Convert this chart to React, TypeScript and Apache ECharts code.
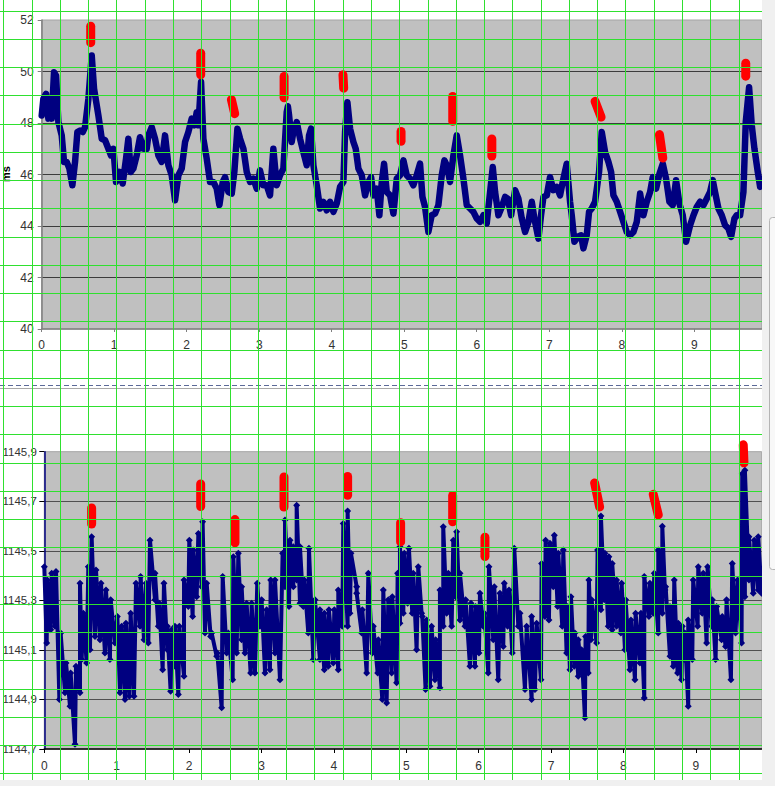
import React, { useEffect, useRef } from "react";
import * as echarts from "echarts";

// ---------- data ----------
const xTickValues = [0, 1, 2, 3, 4, 5, 6, 7, 8, 9];

// upper chart: delay in ms (x, value)
const topLine: [number, number][] = [
  [0.000,48.29],[0.023,48.94],[0.060,49.13],[0.092,48.17],[0.115,48.94],[0.138,48.17],[0.170,49.97],[0.198,49.84],[0.230,48.04],[0.276,47.52],
  [0.308,46.49],[0.345,46.49],[0.382,46.23],[0.423,45.58],[0.460,46.49],[0.492,47.65],[0.529,47.71],[0.566,47.65],[0.598,47.84],[0.644,48.94],
  [0.690,50.62],[0.722,49.33],[0.782,48.29],[0.828,47.39],[0.874,47.33],[0.920,47.00],[0.956,46.74],[0.989,47.00],[1.025,45.71],[1.071,46.10],
  [1.117,45.65],[1.163,46.61],[1.195,47.39],[1.228,46.10],[1.264,46.23],[1.310,46.74],[1.356,47.45],[1.402,47.00],[1.448,47.00],[1.471,47.52],
  [1.517,47.84],[1.563,47.39],[1.609,46.74],[1.655,46.49],[1.701,47.52],[1.747,46.36],[1.793,45.97],[1.839,45.00],[1.885,45.97],[1.931,46.23],
  [1.977,47.26],[2.023,47.65],[2.069,48.17],[2.106,47.91],[2.138,48.42],[2.161,47.91],[2.198,49.59],[2.230,47.39],[2.276,46.61],[2.322,45.71],
  [2.368,45.71],[2.414,45.45],[2.451,44.81],[2.497,45.71],[2.529,45.90],[2.575,45.32],[2.621,45.26],[2.657,46.10],[2.699,47.78],[2.736,47.39],
  [2.782,47.00],[2.828,46.10],[2.874,45.71],[2.920,45.84],[2.966,45.45],[3.011,46.16],[3.057,45.58],[3.103,45.58],[3.149,45.19],[3.195,47.00],
  [3.241,45.58],[3.287,45.97],[3.333,46.23],[3.379,48.42],[3.395,48.65],[3.412,48.29],[3.448,47.26],[3.471,47.65],[3.517,48.04],[3.563,47.39],
  [3.609,46.87],[3.655,46.36],[3.687,47.52],[3.715,47.78],[3.747,46.36],[3.793,45.58],[3.839,44.68],[3.885,44.94],[3.931,44.61],[3.977,44.94],
  [4.023,44.55],[4.069,44.87],[4.115,45.52],[4.161,45.71],[4.184,47.65],[4.216,48.81],[4.253,47.78],[4.299,47.26],[4.331,47.00],[4.368,46.23],
  [4.414,45.97],[4.460,45.19],[4.506,45.71],[4.543,45.90],[4.575,45.19],[4.621,45.45],[4.657,44.42],[4.690,45.71],[4.722,46.42],[4.759,45.32],
  [4.805,45.19],[4.851,44.48],[4.897,45.84],[4.943,45.97],[4.989,46.55],[5.034,45.97],[5.080,45.84],[5.126,45.58],[5.172,45.97],[5.218,46.42],
  [5.251,45.13],[5.287,44.74],[5.333,43.77],[5.379,44.42],[5.425,44.48],[5.471,44.81],[5.517,45.97],[5.554,46.55],[5.586,46.36],[5.632,45.71],
  [5.678,46.74],[5.724,47.52],[5.770,46.74],[5.816,45.84],[5.862,44.81],[5.908,44.68],[5.954,44.55],[6.000,44.29],[6.046,44.16],[6.092,44.42],
  [6.138,44.10],[6.184,45.32],[6.221,46.29],[6.253,45.32],[6.299,44.42],[6.345,44.74],[6.391,45.13],[6.428,45.06],[6.474,44.42],[6.529,45.39],
  [6.575,45.06],[6.621,44.29],[6.667,43.77],[6.713,44.16],[6.759,44.94],[6.795,44.29],[6.851,43.51],[6.887,44.42],[6.920,45.13],[6.966,45.19],
  [7.011,45.90],[7.057,45.39],[7.103,45.52],[7.149,45.19],[7.195,45.84],[7.241,46.42],[7.287,44.94],[7.310,44.42],[7.347,43.39],[7.393,43.58],
  [7.439,43.64],[7.471,43.13],[7.517,43.64],[7.549,44.55],[7.586,44.68],[7.632,44.94],[7.687,46.10],[7.724,47.65],[7.770,46.87],[7.816,46.49],
  [7.853,46.10],[7.885,45.19],[7.931,44.94],[7.977,44.55],[8.023,44.16],[8.069,43.77],[8.115,43.64],[8.161,43.77],[8.207,44.16],[8.253,45.26],
  [8.299,44.42],[8.345,44.94],[8.391,45.32],[8.428,45.90],[8.474,45.45],[8.520,46.03],[8.566,46.42],[8.611,45.84],[8.657,44.94],[8.703,44.81],
  [8.749,45.78],[8.795,44.87],[8.841,44.42],[8.887,43.39],[8.943,44.03],[8.989,44.42],[9.034,44.74],[9.080,44.94],[9.126,44.81],[9.172,45.06],
  [9.218,45.32],[9.255,45.78],[9.287,45.32],[9.333,44.68],[9.379,44.42],[9.425,44.03],[9.471,43.90],[9.508,43.58],[9.554,44.29],[9.586,44.42],
  [9.632,44.42],[9.678,45.32],[9.710,48.04],[9.756,49.39],[9.793,47.91],[9.830,47.00],[9.876,46.10],[9.908,45.52],[9.931,45.84]
];

// upper chart red marks: x0, top value, x1, bottom value
const topMarks: [number, number, number, number][] = [
  [0.676,51.76,0.676,51.12],[2.193,50.71,2.193,49.87],[2.616,48.91,2.662,48.36],[3.343,49.81,3.343,48.98],
  [4.155,49.87,4.165,49.35],[4.956,47.67,4.956,47.29],[5.669,49.03,5.669,48.07],[6.208,47.38,6.208,46.72],
  [7.632,48.84,7.715,48.23],[8.520,47.55,8.566,46.64],[9.710,50.32,9.710,49.82]
];

// lower chart streaks of points: x start, x end, high value, low value
const bottomStreaks: [number, number, number, number][] = [
  [0.000,0.033,1145.436,1145.128],[0.042,0.088,1145.382,1145.181],[0.102,0.148,1145.409,1145.195],[0.162,0.208,1145.416,1144.900],
  [0.226,0.286,1145.168,1144.927],[0.300,0.355,1145.047,1144.873],[0.364,0.424,1145.007,1144.719],[0.438,0.493,1145.034,1144.927],
  [0.493,0.516,1145.369,1145.061],[0.539,0.585,1145.248,1145.047],[0.608,0.631,1145.436,1145.101],[0.654,0.700,1145.557,1145.154],
  [0.714,0.769,1145.423,1145.141],[0.783,0.838,1145.369,1145.087],[0.852,0.907,1145.342,1145.061],[0.917,0.976,1145.302,1145.128],
  [1.009,1.046,1145.235,1144.927],[1.069,1.115,1145.195,1144.900],[1.128,1.175,1145.208,1144.913],[1.193,1.239,1145.248,1144.913],
  [1.267,1.322,1145.369,1145.195],[1.331,1.377,1145.396,1145.141],[1.405,1.437,1145.369,1145.128],[1.460,1.529,1145.543,1145.302],
  [1.529,1.575,1145.409,1145.195],[1.589,1.635,1145.288,1145.020],[1.653,1.699,1145.369,1145.101],[1.699,1.745,1145.195,1144.933],
  [1.759,1.805,1145.181,1145.034],[1.805,1.851,1145.195,1144.920],[1.865,1.930,1145.195,1144.994],[1.930,1.989,1145.382,1145.275],
  [2.003,2.049,1145.543,1145.235],[2.058,2.105,1145.503,1145.315],[2.128,2.174,1145.570,1145.355],[2.187,2.220,1145.617,1145.168],
  [2.243,2.298,1145.369,1145.154],[2.312,2.381,1145.168,1145.074],[2.390,2.450,1145.087,1144.866],[2.464,2.519,1145.396,1145.087],
  [2.542,2.602,1145.168,1144.980],[2.611,2.657,1145.476,1145.087],[2.680,2.726,1145.490,1145.141],[2.726,2.772,1145.355,1145.087],
  [2.795,2.850,1145.288,1145.007],[2.864,2.910,1145.288,1145.007],[2.942,2.979,1145.369,1145.195],[3.002,3.049,1145.302,1145.007],
  [3.071,3.117,1145.262,1145.020],[3.127,3.187,1145.382,1145.087],[3.187,3.256,1145.382,1144.980],[3.292,3.325,1145.490,1145.355],
  [3.325,3.380,1145.624,1145.275],[3.394,3.440,1145.543,1145.355],[3.440,3.486,1145.516,1145.382],[3.486,3.532,1145.684,1145.288],
  [3.532,3.578,1145.516,1145.275],[3.592,3.647,1145.382,1145.168],[3.656,3.716,1145.510,1145.061],[3.739,3.808,1145.302,1145.061],
  [3.808,3.868,1145.262,1145.020],[3.868,3.923,1145.248,1145.034],[3.932,3.992,1145.262,1145.047],[4.006,4.061,1145.262,1145.020],
  [4.061,4.116,1145.342,1145.195],[4.130,4.190,1145.610,1145.195],[4.190,4.222,1145.661,1145.248],[4.236,4.315,1145.490,1145.355],
  [4.315,4.384,1145.329,1145.168],[4.393,4.453,1145.262,1145.007],[4.476,4.531,1145.409,1145.087],[4.545,4.605,1145.195,1145.007],
  [4.614,4.669,1145.141,1144.900],[4.683,4.729,1145.342,1144.886],[4.752,4.798,1145.302,1145.007],[4.807,4.867,1145.315,1144.967],
  [4.881,4.913,1145.409,1145.208],[4.913,4.959,1145.516,1145.248],[4.973,5.019,1145.490,1145.288],[5.037,5.083,1145.510,1145.248],
  [5.097,5.143,1145.409,1145.101],[5.166,5.212,1145.436,1145.248],[5.221,5.267,1145.235,1144.940],[5.281,5.327,1145.221,1144.953],
  [5.350,5.396,1145.195,1144.980],[5.406,5.465,1145.141,1144.947],[5.465,5.511,1145.342,1145.195],[5.511,5.558,1145.597,1145.248],
  [5.581,5.627,1145.409,1145.195],[5.650,5.682,1145.543,1145.315],[5.696,5.742,1145.577,1145.221],[5.742,5.811,1145.409,1145.195],
  [5.820,5.880,1145.302,1145.034],[5.894,5.949,1145.288,1145.034],[5.958,6.004,1145.275,1145.087],[6.018,6.064,1145.329,1145.195],
  [6.078,6.133,1145.248,1145.007],[6.142,6.202,1145.436,1145.141],[6.216,6.271,1145.355,1144.980],[6.294,6.340,1145.329,1145.114],
  [6.354,6.400,1145.369,1145.195],[6.419,6.465,1145.342,1145.087],[6.492,6.548,1145.510,1145.195],[6.571,6.640,1145.248,1144.940],
  [6.663,6.732,1145.195,1144.900],[6.732,6.778,1145.235,1144.940],[6.801,6.861,1145.208,1144.980],[6.870,6.916,1145.449,1145.235],
  [6.925,6.971,1145.543,1145.221],[6.985,7.031,1145.530,1145.355],[7.045,7.091,1145.563,1145.275],[7.100,7.155,1145.490,1145.195],
  [7.169,7.215,1145.503,1145.087],[7.229,7.261,1145.275,1145.020],[7.275,7.321,1145.315,1145.034],[7.330,7.376,1145.168,1144.994],
  [7.376,7.422,1145.141,1145.007],[7.422,7.468,1145.101,1144.826],[7.477,7.514,1145.154,1145.007],[7.523,7.551,1145.382,1145.141],
  [7.560,7.629,1145.302,1145.128],[7.643,7.689,1145.503,1145.262],[7.689,7.735,1145.640,1145.302],[7.744,7.790,1145.490,1145.195],
  [7.799,7.845,1145.476,1145.181],[7.845,7.905,1145.449,1145.195],[7.905,7.965,1145.382,1145.168],[7.975,8.021,1145.369,1145.101],
  [8.030,8.090,1145.302,1145.020],[8.104,8.159,1145.221,1144.980],[8.168,8.228,1145.248,1145.047],[8.242,8.288,1145.248,1144.906],
  [8.288,8.352,1145.396,1145.235],[8.366,8.412,1145.369,1145.248],[8.426,8.481,1145.409,1145.168],[8.481,8.537,1145.503,1145.248],
  [8.537,8.573,1145.599,1145.342],[8.583,8.643,1145.355,1145.074],[8.643,8.689,1145.275,1145.034],[8.702,8.748,1145.382,1145.007],
  [8.757,8.803,1145.208,1144.980],[8.813,8.840,1145.195,1145.061],[8.849,8.895,1145.168,1144.873],[8.895,8.951,1145.221,1145.061],
  [8.964,9.025,1145.382,1145.195],[9.034,9.089,1145.436,1145.248],[9.103,9.149,1145.409,1145.128],[9.163,9.218,1145.436,1145.195],
  [9.227,9.273,1145.302,1145.061],[9.287,9.356,1145.275,1145.141],[9.365,9.411,1145.235,1145.114],[9.425,9.485,1145.302,1144.980],
  [9.503,9.549,1145.449,1145.168],[9.577,9.632,1145.382,1145.128],[9.641,9.678,1145.811,1145.315],[9.678,9.734,1145.825,1145.382],
  [9.734,9.793,1145.557,1145.329],[9.807,9.862,1145.543,1145.342],[9.862,9.908,1145.557,1145.329]
];

// lower chart red marks: x0, top value, x1, bottom value
const bottomMarks: [number, number, number, number][] = [
  [0.654,1145.673,0.654,1145.608],[2.160,1145.770,2.160,1145.679],[2.634,1145.626,2.634,1145.532],[3.311,1145.798,3.311,1145.677],
  [4.190,1145.800,4.190,1145.724],[4.922,1145.613,4.922,1145.536],[5.641,1145.723,5.641,1145.617],[6.087,1145.555,6.087,1145.477],
  [7.602,1145.774,7.671,1145.677],[8.412,1145.728,8.481,1145.645],[9.655,1145.928,9.665,1145.855]
];

const NAVY = "#000080";
const RED = "#ff0000";
const FONT = "'Liberation Sans', Arial, sans-serif";

function buildOption() {
  const bottomPoints = bottomStreaks.flatMap(([x0, x1, hi, lo]) => [
    [x0, hi],
    [x1, lo],
  ]);

  const markSeries = (marks: [number, number, number, number][], idx: number) =>
    marks.map((m) => ({
      type: "line",
      xAxisIndex: idx,
      yAxisIndex: idx,
      data: [
        [m[0], m[1]],
        [m[2], m[3]],
      ],
      symbol: "none",
      clip: false,
      silent: true,
      z: 4,
      lineStyle: { color: RED, width: 9, cap: "round" },
    }));

  // decorative spreadsheet grid drawn over the picture
  const green: any[] = [];
  for (let k = 0; k <= 26; k++) {
    const x = Math.round(3.3 + 28.28 * k) + 0.5;
    green.push({
      type: "line",
      z: 100,
      silent: true,
      shape: { x1: x, y1: 0, x2: x, y2: 780 },
      style: { stroke: "#2fe02f", lineWidth: 1 },
    });
  }
  for (let k = 0; k <= 27; k++) {
    const y = Math.round(10.7 + 28.245 * k) + 0.5;
    green.push({
      type: "line",
      z: 100,
      silent: true,
      shape: { x1: 0, y1: y, x2: 762, y2: y },
      style: { stroke: "#2fe02f", lineWidth: 1 },
    });
  }

  const axisLabelBase = { color: "#333", fontSize: 12, fontFamily: FONT };

  return {
    animation: false,
    backgroundColor: "#ffffff",
    textStyle: { fontFamily: FONT },
    grid: [
      {
        left: 41.7,
        top: 20,
        width: 720,
        height: 309,
        show: true,
        outerBoundsMode: "none",
        containLabel: false,
        backgroundColor: "#c0c0c0",
        borderColor: "#a4a4a4",
        borderWidth: 1,
      },
      {
        left: 44.3,
        top: 451.7,
        width: 717.4,
        height: 297.3,
        show: true,
        outerBoundsMode: "none",
        containLabel: false,
        backgroundColor: "#c0c0c0",
        borderColor: "#a4a4a4",
        borderWidth: 1,
      },
    ],
    xAxis: [
      {
        type: "value",
        gridIndex: 0,
        min: 0,
        max: 9.93,
        axisLine: { onZero: false, lineStyle: { color: "#808080", width: 1.5 } },
        axisTick: { customValues: xTickValues, length: 3, lineStyle: { color: "#808080" } },
        axisLabel: { ...axisLabelBase, customValues: xTickValues, margin: 10 },
        splitLine: { show: false },
      },
      {
        type: "value",
        gridIndex: 1,
        min: 0,
        max: 9.91,
        axisLine: { onZero: false, lineStyle: { color: "#000000", width: 1.5 } },
        axisTick: { customValues: xTickValues, length: 4, lineStyle: { color: "#000000" } },
        axisLabel: { ...axisLabelBase, customValues: xTickValues, margin: 11 },
        splitLine: { show: false },
      },
    ],
    yAxis: [
      {
        type: "value",
        gridIndex: 0,
        min: 40,
        max: 52,
        interval: 2,
        axisLine: { show: true, onZero: false, lineStyle: { color: "#808080", width: 1.5 } },
        axisTick: { show: true, length: 4, lineStyle: { color: "#808080" } },
        axisLabel: { ...axisLabelBase, margin: 8 },
        splitLine: {
          show: true,
          showMinLine: false,
          showMaxLine: false,
          lineStyle: { color: "#3c3c3c", width: 1 },
        },
      },
      {
        type: "value",
        gridIndex: 1,
        min: 1144.7,
        max: 1145.9,
        interval: 0.2,
        axisLine: { show: true, onZero: false, lineStyle: { color: NAVY, width: 1.5 } },
        axisTick: { show: true, length: 5, lineStyle: { color: "#000000" } },
        axisLabel: {
          ...axisLabelBase,
          fontSize: 11.5,
          margin: 7.5,
          formatter: (v: number) => v.toFixed(1).replace(".", ","),
        },
        splitLine: {
          show: true,
          showMinLine: false,
          showMaxLine: false,
          lineStyle: { color: "#505050", width: 1 },
        },
      },
    ],
    series: [
      {
        type: "line",
        xAxisIndex: 0,
        yAxisIndex: 0,
        data: topLine,
        symbol: "none",
        silent: true,
        z: 2,
        lineStyle: { color: NAVY, width: 6.5, join: "round", cap: "round" },
      },
      ...markSeries(topMarks, 0),
      {
        type: "line",
        xAxisIndex: 1,
        yAxisIndex: 1,
        data: bottomPoints,
        symbol: "diamond",
        symbolSize: 7,
        showAllSymbol: true,
        silent: true,
        z: 2,
        itemStyle: { color: NAVY },
        lineStyle: { color: NAVY, width: 4, join: "round" },
      },
      ...markSeries(bottomMarks, 1),
    ],
    graphic: [
      {
        type: "text",
        z: 50,
        silent: true,
        x: 6,
        y: 174,
        rotation: Math.PI / 2,
        style: {
          text: "ms",
          fill: "#000",
          font: `bold 11px ${FONT}`,
          align: "center",
          verticalAlign: "middle",
        },
      },
      {
        type: "line",
        z: 50,
        silent: true,
        shape: { x1: 0, y1: 385.5, x2: 762, y2: 385.5 },
        style: { stroke: "#5c6a98", lineWidth: 1, lineDash: [5, 3] },
      },
      {
        type: "line",
        z: 50,
        silent: true,
        shape: { x1: 0, y1: 388.5, x2: 762, y2: 388.5 },
        style: { stroke: "#a8a8a8", lineWidth: 1 },
      },
      ...green,
      {
        type: "rect",
        z: 110,
        silent: true,
        shape: { x: 762, y: 0, width: 13, height: 786 },
        style: { fill: "#f0f0f0" },
      },
      {
        type: "rect",
        z: 110,
        silent: true,
        shape: { x: 0, y: 780, width: 775, height: 6 },
        style: { fill: "#f0f0f0" },
      },
      {
        type: "rect",
        z: 111,
        silent: true,
        shape: { x: 769.5, y: 217.5, width: 10, height: 352, r: 3 },
        style: { fill: "#f8f8f8", stroke: "#b4b4b4", lineWidth: 1 },
      },
    ],
  };
}

export default function App() {
  const ref = useRef<HTMLDivElement>(null);

  useEffect(() => {
    if (!ref.current) return;
    const chart = echarts.init(ref.current, undefined, { renderer: "svg" });
    chart.setOption(buildOption() as any);
    return () => chart.dispose();
  }, []);

  return (
    <div
      ref={ref}
      style={{ position: "fixed", left: 0, top: 0, width: 775, height: 786 }}
    />
  );
}
